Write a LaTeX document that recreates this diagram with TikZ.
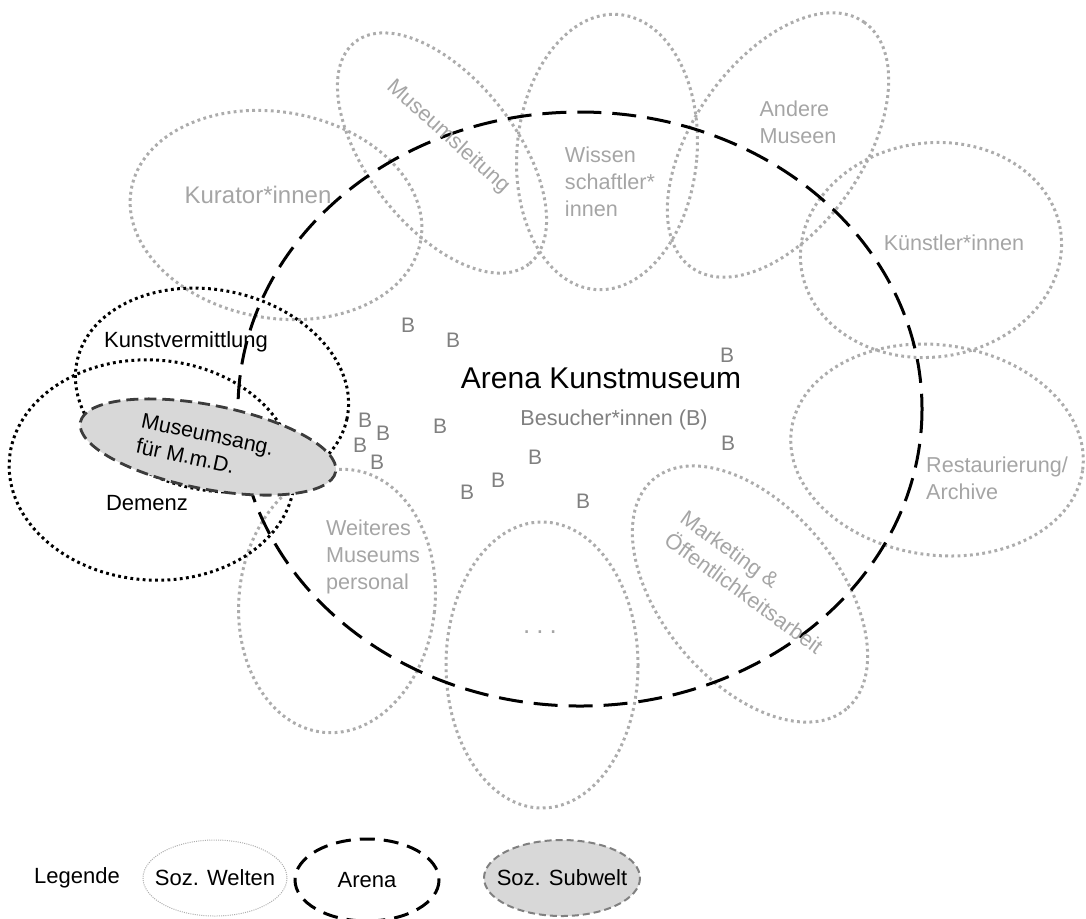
\documentclass[tikz,border=0pt]{standalone}
\usepackage{fontspec}
\setmainfont{Liberation Sans}
\usepackage{tikz}

\definecolor{weltgrau}{RGB}{172,172,172}
\definecolor{textgrau}{RGB}{165,165,165}
\definecolor{besgrau}{RGB}{128,128,128}
\definecolor{subfill}{RGB}{216,216,216}
\definecolor{subrand}{RGB}{60,60,60}

\begin{document}
\begin{tikzpicture}[x=0.5pt,y=-0.5pt,
	welt/.style={draw=weltgrau, line width=1.5pt, dash pattern=on 1.4pt off 1.7pt},
	arena/.style={draw=black, line width=1.5pt, dash pattern=on 12pt off 5.5pt},
	swelt/.style={draw=black, line width=1.5pt, dash pattern=on 1.4pt off 1.7pt},
	subwelt/.style={fill=subfill, draw=subrand, line width=1.4pt, dash pattern=on 6pt off 3pt},
	weltlabel/.style={text=textgrau, inner sep=0pt, align=left, font=\fontsize{10.8}{13.5}\selectfont},
	besucher/.style={text=besgrau, inner sep=0pt, font=\fontsize{10.5}{12}\selectfont},
	schwarz/.style={text=black, inner sep=0pt, align=left, font=\fontsize{11}{13.5}\selectfont}]

\useasboundingbox (0,0) rectangle (1086,918);

% soziale Welten
\draw[welt, rotate around={-10:(276,215)}] (276,215) ellipse (147 and 103);
\draw[welt, rotate around={-52:(442,153)}] (442,153) ellipse (141 and 74);
\draw[welt, rotate around={-5:(607,152)}] (607,152) ellipse (90 and 138);
\draw[welt, rotate around={55:(778,145)}] (778,145) ellipse (150 and 85);
\draw[welt, rotate around={8:(931,250)}] (931,250) ellipse (131 and 107);
\draw[welt, rotate around={-8:(937,450)}] (937,450) ellipse (147 and 105);
\draw[welt, rotate around={-50:(750,594)}] (750,594) ellipse (150 and 88);
\draw[welt] (542,665) ellipse (96 and 143);
\draw[welt, rotate around={-6:(337,601)}] (337,601) ellipse (98 and 132);

% Arena
\draw[arena] (580,409) ellipse (342 and 297);

% Kunstvermittlung, Demenz
\draw[swelt, rotate around={-12:(212,390)}] (212,390) ellipse (138 and 100);
\draw[swelt, rotate around={-4:(152,470)}] (152,470) ellipse (143 and 110);

% Subwelt
\draw[subwelt, rotate around={-11:(208,447)}] (208,447) ellipse (130 and 42);

\node[weltlabel, font=\fontsize{12}{14}\selectfont] (kurator) at (258,195) {Kurator*innen};
\node[weltlabel, rotate=-42] (leitung) at (448,137) {Museumsleitung};
\node[weltlabel] (wissen) at (610,182) {Wissen\\schaftler*\\innen};
\node[weltlabel] (andere) at (798,122) {Andere\\Museen};
\node[weltlabel] (kuenstler) at (954,243) {Künstler*innen};
\node[weltlabel] (restaur) at (997,478) {Restaurierung/\\Archive};
\node[weltlabel, rotate=-36] (marketing) at (752,582) {Marketing \&\\Öffentlichkeitsarbeit};
\node[weltlabel] (weiteres) at (373,557) {Weiteres\\Museums\\personal};
\node[weltlabel, font=\fontsize{13}{14}\selectfont] (punkte) at (540,632) {.\kern3pt.\kern3pt.};

\node[schwarz, font=\fontsize{15}{18}\selectfont] (arenatitel) at (601,378) {Arena Kunstmuseum};
\node[besucher, font=\fontsize{10.8}{13}\selectfont] (besuch) at (614,420) {Besucher*innen (B)};
\node[schwarz] (kunstverm) at (186,342) {Kunstvermittlung};
\node[schwarz] (demenz) at (147,503) {Demenz};
\node[schwarz, rotate=-12, font=\fontsize{10.7}{13}\selectfont] (museumsang) at (205,447) {Museumsang.\\für M.m.D.};

\foreach \bx/\by [count=\i] in {408/325, 453/340, 727/355, 365/420, 383/433, 360/445,
	377/462, 440/426, 728/443, 535/457, 498/480, 467/492, 583/501}
	\node[besucher] (b\i) at (\bx,\by) {B};

% Legende
\node[schwarz] (legende) at (77,878) {Legende};
\draw[draw=weltgrau, line width=0.5pt, dash pattern=on 0.5pt off 0.6pt] (215,878) ellipse (72 and 38);
\node[schwarz] (lwelten) at (215,878) {Soz. Welten};
\draw[draw=black, line width=1.5pt, dash pattern=on 7.5pt off 4.5pt] (367,880) ellipse (72 and 41);
\node[schwarz] (larena) at (367,880) {Arena};
\draw[fill=subfill, draw=besgrau, line width=1pt, dash pattern=on 3.5pt off 2pt] (562,878) ellipse (78 and 38);
\node[schwarz] (lsubwelt) at (562,878) {Soz. Subwelt};
\end{tikzpicture}
\end{document}
